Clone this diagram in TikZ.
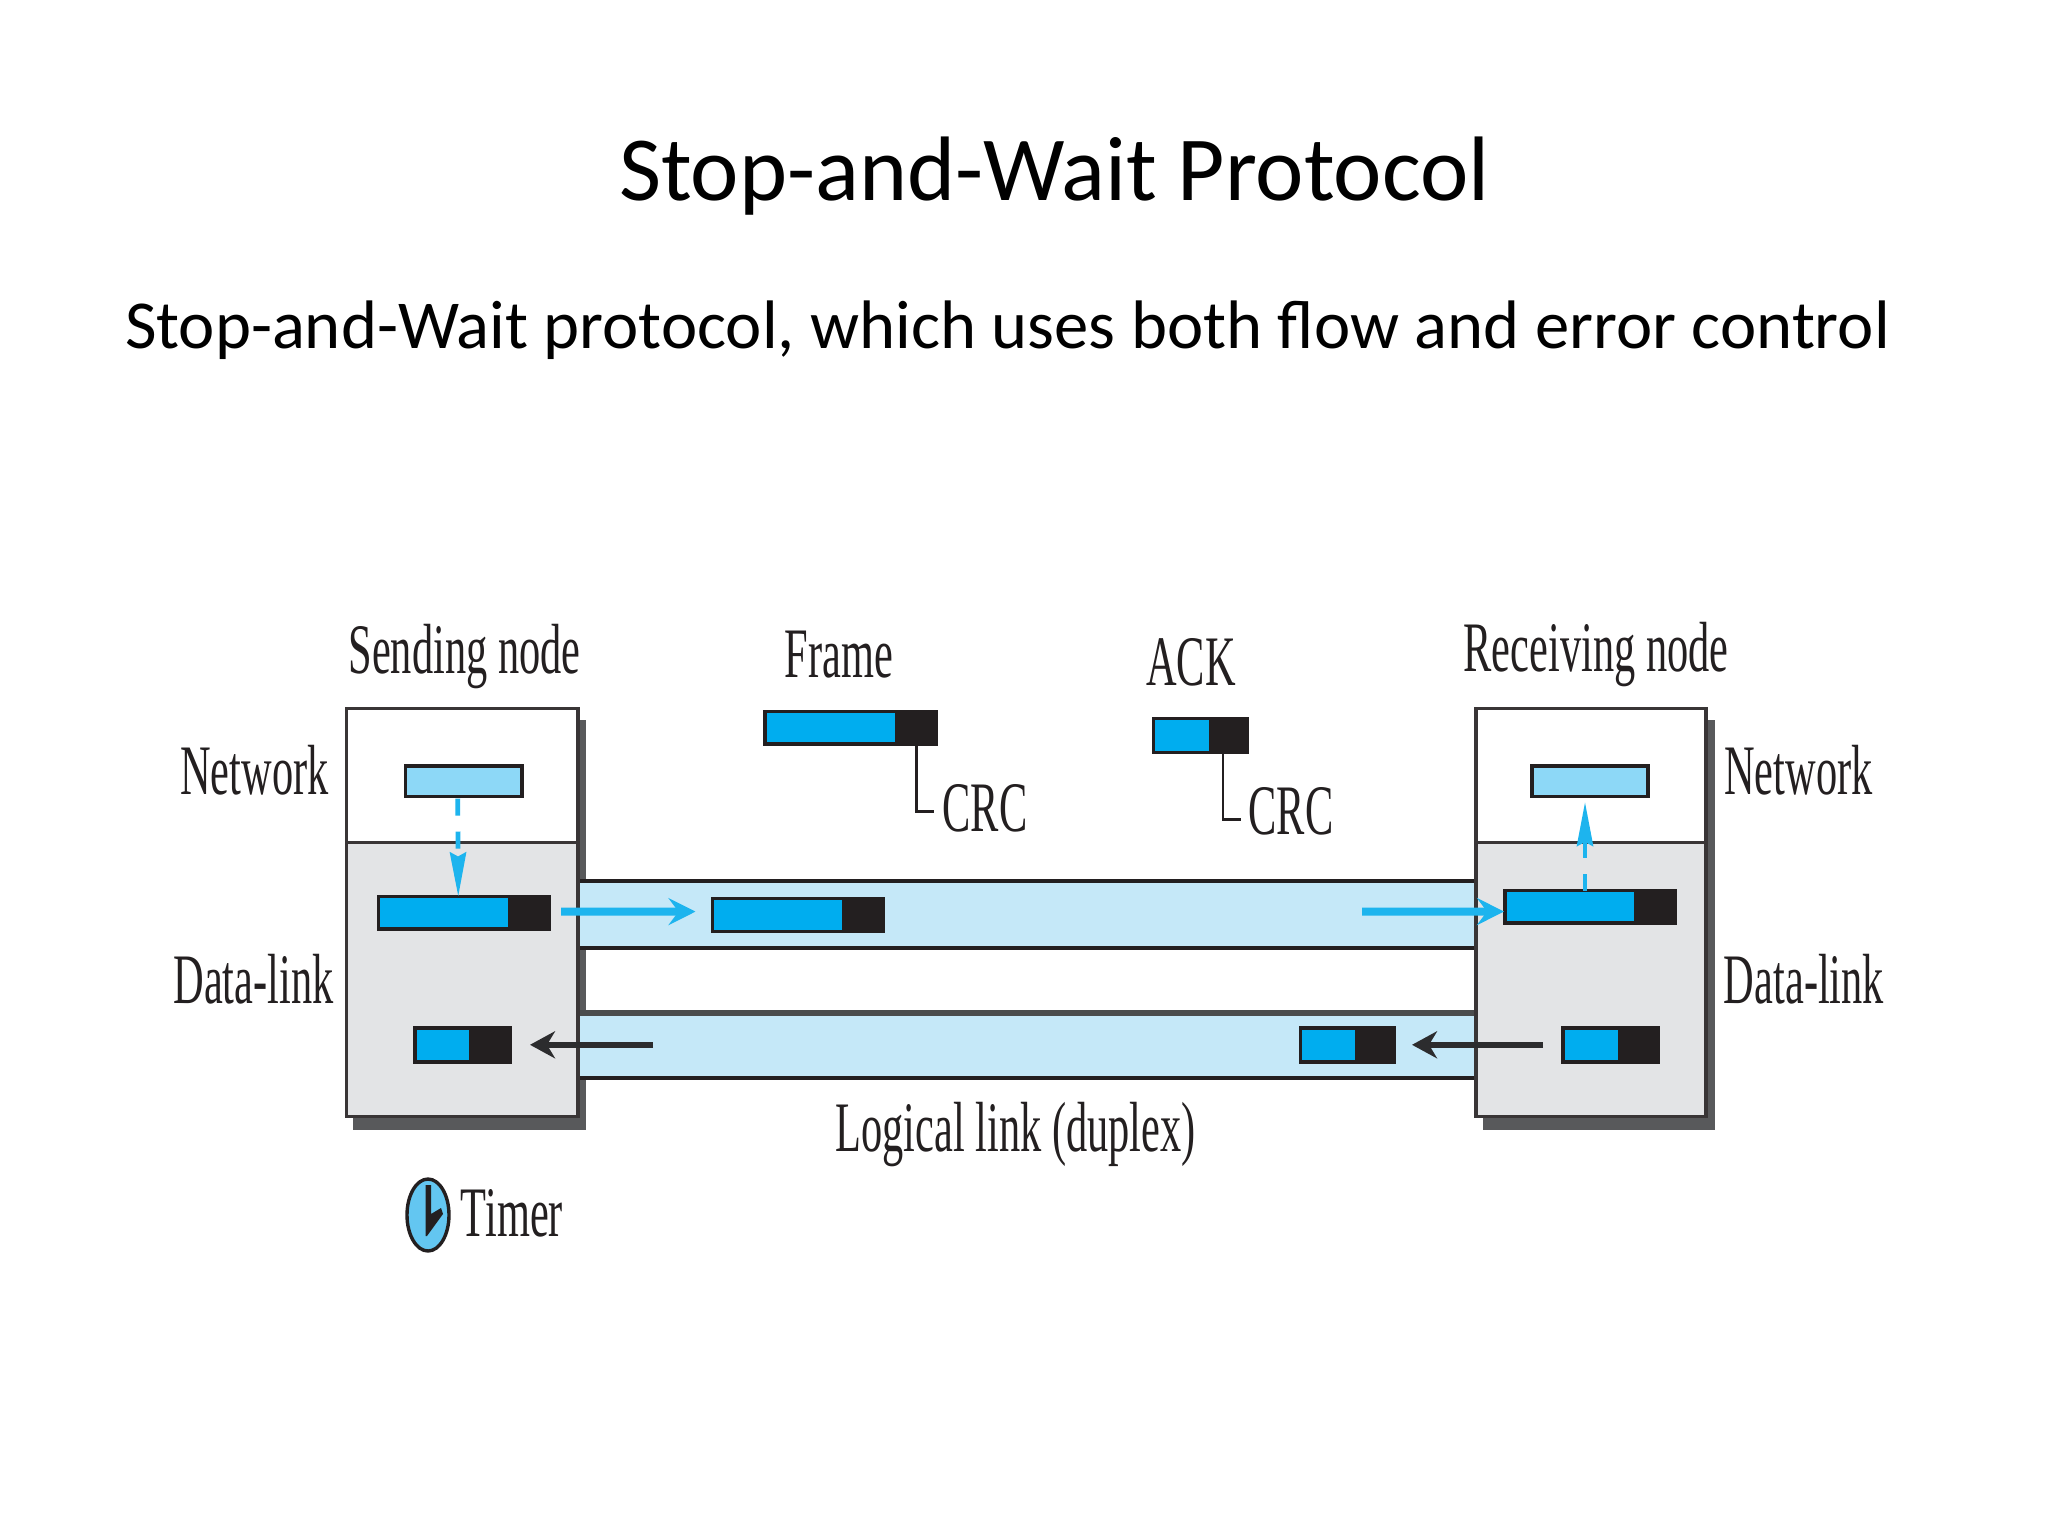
\documentclass[tikz,border=0pt]{standalone}
\usepackage{fontspec}
\usetikzlibrary{arrows.meta,shapes.geometric}
\setmainfont{Carlito}
\newfontfamily\figfont[FakeStretch=0.597]{Liberation Serif}
\definecolor{ink}{HTML}{231F20}
\definecolor{pktblue}{HTML}{00ADEF}
\definecolor{pktlight}{HTML}{8DD8F7}
\definecolor{chan}{HTML}{C5E8F8}
\definecolor{dl}{HTML}{E3E4E6}
\definecolor{shade}{HTML}{58595B}
\definecolor{arrowblue}{HTML}{1DB4EE}
\definecolor{arrowdark}{HTML}{2C2C2E}
\definecolor{clockblue}{HTML}{63C6F1}
\tikzset{
  x=0.5pt,y=-0.5pt,
  boxn/.style={inner sep=0pt,outer sep=0pt,anchor=north west},
  shadowbox/.style={boxn,fill=shade},
  netbox/.style={boxn,fill=white,draw=ink!90,line width=1.6pt},
  dlbox/.style={boxn,fill=dl,draw=ink!90,line width=1.6pt},
  chanbox/.style={boxn,fill=chan},
  body/.style={boxn,fill=pktblue,draw=ink,line width=1.6pt},
  lightbody/.style={boxn,fill=pktlight,draw=ink,line width=1.6pt},
  crcbox/.style={boxn,fill=ink,draw=ink,line width=1.6pt},
  lbl/.style={inner sep=0pt,outer sep=0pt,anchor=base,text=ink,font=\figfont\fontsize{35.5}{40}\selectfont},
  heading/.style={inner sep=0pt,outer sep=0pt,anchor=base west,text=black},
  bluearrow/.style={draw=arrowblue,line width=4pt,-{Stealth[length=13.5pt,width=13.5pt,inset=5pt,color=arrowblue]}},
  darkarrow/.style={draw=arrowdark,line width=3.2pt,-{Stealth[length=12.5pt,width=13.5pt,inset=4pt,color=arrowdark]}},
  dasharrow/.style={draw=arrowblue,line width=2.4pt,dash pattern=on 8.5pt off 8pt,-{Stealth[length=22pt,width=8pt,inset=2pt,color=arrowblue]}},
  crcline/.style={draw=ink,line width=1.4pt},
  chanline/.style={draw=ink,line width=1.6pt},
  heavyline/.style={draw=shade!85!black,line width=2.6pt},
}
\newcommand{\rectnode}[6]{%
  \node[#2,minimum width={(#5-#3)*0.5pt},minimum height={(#6-#4)*0.5pt}] (#1) at (#3,#4) {};}
\newcommand{\pkt}[6]{% name, x1, x2, x3, y1, y2
  \rectnode{#1}{body}{#2}{#5}{#3}{#6}
  \rectnode{#1c}{crcbox}{#3}{#5}{#4}{#6}}
\begin{document}
\begin{tikzpicture}
\useasboundingbox (0,0) rectangle (2048,1536);
\node[heading,font=\fontsize{45.8}{52}\selectfont] (title) at (619,200) {Stop-and-Wait Protocol};
\node[heading,font=\fontsize{34.32}{40}\selectfont] (sub) at (125,348) {Stop-and-Wait protocol, which uses both flow and error control};

% shadows
\rectnode{shL}{shadowbox}{353}{720}{586}{1130}
\rectnode{shR}{shadowbox}{1483}{720}{1715}{1130}
% channels
\rectnode{chU}{chanbox}{578}{881}{1476}{948}
\rectnode{chD}{chanbox}{578}{1013}{1476}{1078}
\draw[chanline] (chU.north west) -- (chU.north east);
\draw[chanline] (chU.south west) -- (chU.south east);
\draw[heavyline] (chD.north west) -- (chD.north east);
\draw[chanline] (chD.south west) -- (chD.south east);
% stacks
\rectnode{netL}{netbox}{346.5}{708.5}{578}{842.5}
\rectnode{dlL}{dlbox}{346.5}{842.5}{578}{1116.5}
\rectnode{netR}{netbox}{1476}{708.5}{1706}{842.5}
\rectnode{dlR}{dlbox}{1476}{842.5}{1706}{1116.5}
% packets
\rectnode{npL}{lightbody}{405.5}{766}{522}{796.5}
\rectnode{npR}{lightbody}{1532}{766}{1648}{796.5}
\pkt{fL}{378.5}{510}{549}{896.5}{929}
\pkt{fM}{712.5}{844}{883}{898.5}{931.5}
\pkt{fR}{1505}{1636}{1675.5}{890.5}{923}
\pkt{fT}{765}{897}{936}{711.5}{744}
\pkt{aL}{415}{471}{510}{1028}{1062}
\pkt{aM}{1300.5}{1357}{1394}{1028}{1062}
\pkt{aR}{1563}{1620}{1658}{1028}{1062}
\pkt{aT}{1153.5}{1210.5}{1247.5}{718.5}{752.5}

% labels
\node[lbl] (sending) at (464.5,673.5) {Sending node};
\node[lbl] (receiving) at (1596,671.5) {Receiving node};
\node[lbl] (nwL) at (254.5,794) {Network};
\node[lbl] (dlTL) at (253.5,1003.5) {Data-link};
\node[lbl] (nwR) at (1798.5,794) {Network};
\node[lbl] (dlTR) at (1804,1003.5) {Data-link};
\node[lbl] (frame) at (839,677) {Frame};
\node[lbl] (ack) at (1191,685.5) {ACK};
\node[lbl] (crcF) at (985,831.5) {CRC};
\node[lbl] (crcA) at (1291,834.5) {CRC};
\node[lbl] (link) at (1015.5,1151) {Logical link (duplex)};
\node[lbl] (timer) at (512,1236) {Timer};

% CRC leaders
\draw[crcline,shorten >=4.5pt] (fTc.south) |- ([yshift=-1.5pt]crcF.west);
\draw[crcline,shorten >=4pt] ([xshift=-3pt]aTc.south) |- ([yshift=-4pt]crcA.west);

% arrows
\draw[dasharrow] ([xshift=-3pt,yshift=-1pt]npL.south) -- ([xshift=7pt]fL.north);
\draw[dasharrow,shorten >=2.7pt] ([xshift=7.25pt]fR.north) -- ([xshift=-2.5pt]npR.south);
\draw[bluearrow,shorten <=6pt,shorten >=8.5pt] ([yshift=0.55pt]fLc.east) -- ([yshift=1.7pt]fM.west);
\coordinate (blueStart) at (1362,911.5);
\draw[bluearrow,shorten >=0.5pt] (blueStart) -- ([yshift=-2.4pt]fR.west);
\coordinate (darkStart) at (653,1044.8);
\draw[darkarrow,shorten >=10pt] (darkStart) -- ([yshift=0.1pt]aLc.east);
\draw[darkarrow,shorten <=10pt,shorten >=9pt] ([yshift=0.1pt]aR.west) -- ([yshift=0.1pt]aMc.east);

% timer
\node[draw=ink,line width=1.7pt,fill=clockblue,ellipse,minimum width=21pt,minimum height=36pt,inner sep=0pt] (clock) at (428,1215) {};
\fill[ink] ([xshift=-1.25pt,yshift=15pt]clock.center) -- ([xshift=1.5pt,yshift=15pt]clock.center) -- ([xshift=1.5pt,yshift=0.5pt]clock.center) -- ([xshift=6.5pt,yshift=3.5pt]clock.center) -- ([xshift=7.5pt,yshift=0.5pt]clock.center) -- ([xshift=-0.5pt,yshift=-10.5pt]clock.center) -- ([xshift=-1.25pt,yshift=-10.5pt]clock.center) -- cycle;
\end{tikzpicture}
\end{document}
